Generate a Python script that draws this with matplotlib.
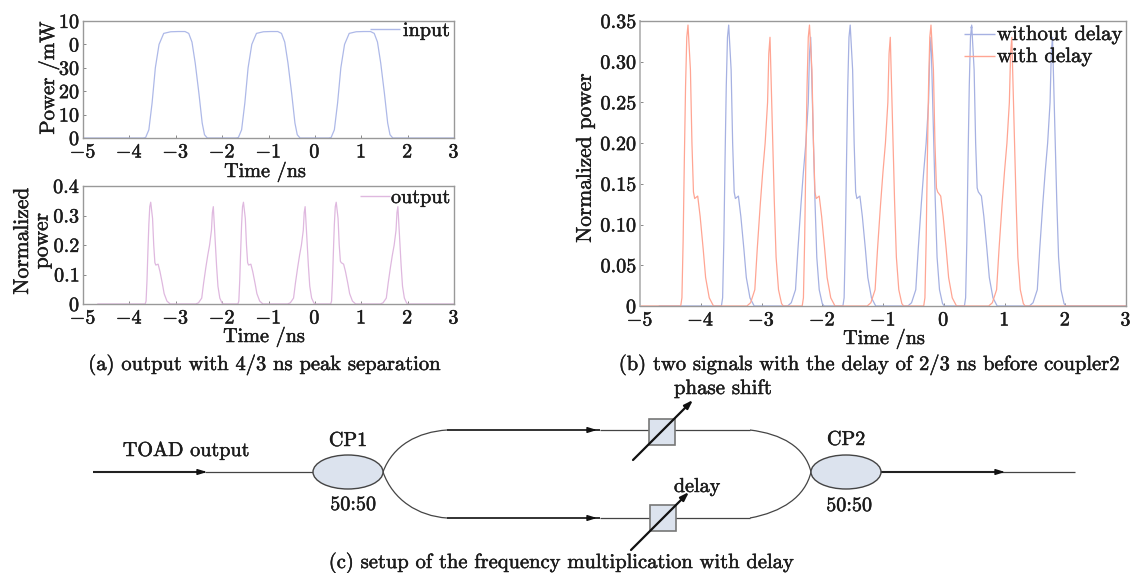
import matplotlib
matplotlib.use("Agg")
import matplotlib.pyplot as plt
import matplotlib.patheffects as pe
from matplotlib.text import Text
from matplotlib.patches import Ellipse, Rectangle, PathPatch
from matplotlib.path import Path

plt.rcParams['font.family'] = ['cmr10', 'DejaVu Serif']
plt.rcParams['mathtext.fontset'] = 'cm'
plt.rcParams['axes.formatter.use_mathtext'] = True

# ---------- data ----------
input_t = [-5, -3.70, -3.65, -3.58, -3.51, -3.44, -3.36, -3.26, -3.11, -2.95, -2.80, -2.72, -2.65, -2.58, -2.50, -2.43, -2.38, -2.32,
           -1.70, -1.65, -1.58, -1.51, -1.44, -1.36, -1.26, -1.11, -0.95, -0.80, -0.72, -0.65, -0.58, -0.50, -0.43, -0.38, -0.32,
           0.30, 0.35, 0.42, 0.49, 0.56, 0.64, 0.74, 0.89, 1.05, 1.20, 1.28, 1.35, 1.42, 1.50, 1.57, 1.62, 1.68, 3]
input_p = [0, 0, 0.2, 3.5, 15, 30, 40, 44.7, 45.4, 45.5, 45.5, 44.7, 41, 32, 19, 6.4, 1.4, 0,
           0, 0.2, 3.5, 15, 30, 40, 44.7, 45.4, 45.5, 45.5, 44.7, 41, 32, 19, 6.4, 1.4, 0,
           0, 0.2, 3.5, 15, 30, 40, 44.7, 45.4, 45.5, 45.5, 44.7, 41, 32, 19, 6.4, 1.4, 0, 0]

nodelay_t = [-4.68, -3.66, -3.64, -3.62, -3.60, -3.58, -3.56, -3.54, -3.50, -3.475, -3.45, -3.43, -3.38, -3.34, -3.29, -3.25, -3.19, -3.12,
             -2.57, -2.51, -2.44, -2.40, -2.35, -2.31, -2.27, -2.23, -2.21, -2.19, -2.155, -2.12, -2.09, -2.05, -2.00, -1.97,
             -1.66, -1.64, -1.62, -1.60, -1.58, -1.56, -1.54, -1.50, -1.475, -1.45, -1.43, -1.38, -1.34, -1.29, -1.25, -1.19, -1.12,
             -0.59, -0.53, -0.46, -0.42, -0.37, -0.33, -0.29, -0.25, -0.23, -0.21, -0.175, -0.14, -0.11, -0.07, -0.02, 0.01,
             0.34, 0.36, 0.38, 0.40, 0.42, 0.44, 0.46, 0.50, 0.525, 0.55, 0.57, 0.62, 0.66, 0.71, 0.75, 0.81, 0.88,
             1.41, 1.47, 1.54, 1.58, 1.63, 1.67, 1.71, 1.75, 1.77, 1.79, 1.825, 1.86, 1.89, 1.93, 1.98, 2.01, 3]
nodelay_p = [0, 0, 0.01, 0.08, 0.18, 0.27, 0.33, 0.345, 0.29, 0.20, 0.14, 0.132, 0.135, 0.11, 0.07, 0.035, 0.01, 0,
             0, 0.004, 0.02, 0.07, 0.125, 0.165, 0.20, 0.25, 0.31, 0.33, 0.23, 0.13, 0.06, 0.02, 0.003, 0,
             0, 0.01, 0.08, 0.18, 0.27, 0.33, 0.345, 0.29, 0.20, 0.14, 0.132, 0.135, 0.11, 0.07, 0.035, 0.01, 0,
             0, 0.004, 0.02, 0.07, 0.125, 0.165, 0.20, 0.25, 0.31, 0.33, 0.23, 0.13, 0.06, 0.02, 0.003, 0,
             0, 0.01, 0.08, 0.18, 0.27, 0.33, 0.345, 0.29, 0.20, 0.145, 0.14, 0.135, 0.11, 0.07, 0.035, 0.01, 0,
             0, 0.004, 0.02, 0.07, 0.125, 0.165, 0.20, 0.25, 0.31, 0.33, 0.23, 0.13, 0.06, 0.02, 0.003, 0, 0]

delay_t = [-5, -4.33, -4.31, -4.29, -4.27, -4.25, -4.23, -4.21, -4.17, -4.145, -4.12, -4.10, -4.05, -4.01, -3.96, -3.92, -3.86, -3.79,
           -3.24, -3.18, -3.11, -3.07, -3.02, -2.98, -2.94, -2.90, -2.88, -2.86, -2.825, -2.79, -2.76, -2.72, -2.67, -2.64,
           -2.33, -2.31, -2.29, -2.27, -2.25, -2.23, -2.21, -2.17, -2.145, -2.12, -2.10, -2.05, -2.01, -1.96, -1.92, -1.86, -1.79,
           -1.26, -1.20, -1.13, -1.09, -1.04, -1.00, -0.96, -0.92, -0.90, -0.88, -0.845, -0.81, -0.78, -0.74, -0.69, -0.66,
           -0.33, -0.31, -0.29, -0.27, -0.25, -0.23, -0.21, -0.17, -0.145, -0.12, -0.10, -0.05, -0.01, 0.04, 0.08, 0.14, 0.21,
           0.74, 0.80, 0.87, 0.91, 0.96, 1.00, 1.04, 1.08, 1.10, 1.12, 1.155, 1.19, 1.22, 1.26, 1.31, 1.34, 3]
delay_p = [0, 0, 0.01, 0.08, 0.18, 0.27, 0.33, 0.345, 0.29, 0.20, 0.14, 0.132, 0.135, 0.11, 0.07, 0.035, 0.01, 0,
           0, 0.004, 0.02, 0.07, 0.125, 0.165, 0.20, 0.25, 0.31, 0.33, 0.23, 0.13, 0.06, 0.02, 0.003, 0,
           0, 0.01, 0.08, 0.18, 0.27, 0.33, 0.345, 0.29, 0.20, 0.14, 0.132, 0.135, 0.11, 0.07, 0.035, 0.01, 0,
           0, 0.004, 0.02, 0.07, 0.125, 0.165, 0.20, 0.25, 0.31, 0.33, 0.23, 0.13, 0.06, 0.02, 0.003, 0,
           0, 0.01, 0.08, 0.18, 0.27, 0.33, 0.345, 0.29, 0.20, 0.145, 0.14, 0.135, 0.11, 0.07, 0.035, 0.01, 0,
           0, 0.004, 0.02, 0.07, 0.125, 0.165, 0.20, 0.25, 0.31, 0.33, 0.23, 0.13, 0.06, 0.02, 0.003, 0, 0]

x_ticks = [-5, -4, -3, -2, -1, 0, 1, 2, 3]
x_labels = ['$-5$', '$-4$', '$-3$', '$-2$', '$-1$', '$0$', '$1$', '$2$', '$3$']
a1_yticks = [0, 10, 20, 30, 40, 50]
a1_ylabels = ['$0$', '$10$', '$20$', '$30$', '$0$', '$10$']
a2_yticks = [0, 0.1, 0.2, 0.3, 0.4]
a2_ylabels = ['$0$', '$0.1$', '$0.2$', '$0.3$', '$0.4$']
b_yticks = [0, 0.05, 0.10, 0.15, 0.20, 0.25, 0.30, 0.35]
b_ylabels = ['$0$', '$0.05$', '$0.10$', '$0.15$', '$0.20$', '$0.25$', '$0.30$', '$0.35$']

W, H = 1133, 573
C_IN, C_OUT, C_BLUE, C_RED = '#aeb9e8', '#dfb8df', '#a6b1e2', '#ffa593'
INK = '#1c1c1c'
FS = 14.5

fig = plt.figure(figsize=(W / 100, H / 100), dpi=100, facecolor='white')


def make_axes(l, t, r, b, ylim, yticks, ylabels):
    ax = fig.add_axes([l / W, 1 - b / H, (r - l) / W, (b - t) / H])
    ax.set_xlim(-5, 3)
    ax.set_ylim(*ylim)
    ax.set_xticks(x_ticks, x_labels)
    ax.set_yticks(yticks, ylabels)
    ax.tick_params(direction='in', length=2.5, width=0.7, color='#888888',
                   labelsize=FS, labelcolor=INK)
    ax.tick_params(axis='x', pad=4)
    ax.tick_params(axis='y', pad=2)
    for s in ax.spines.values():
        s.set_color('#999999')
        s.set_linewidth(1.0)
    return ax


ax1 = make_axes(83, 21, 454, 138, (0, 50), a1_yticks, a1_ylabels)
ax1.plot(input_t, input_p, color=C_IN, lw=0.9)
ax2 = make_axes(83, 186, 454, 304, (0, 0.4), a2_yticks, a2_ylabels)
ax2.plot(nodelay_t, nodelay_p, color=C_OUT, lw=0.9)
ax3 = make_axes(640, 21, 1126, 306, (0, 0.35), b_yticks, b_ylabels)
ax3.plot(nodelay_t, nodelay_p, color=C_BLUE, lw=0.9)
ax3.plot(delay_t, delay_p, color=C_RED, lw=0.9)
ax3.spines['left'].set_color('#bbbbbb')
ax3.spines['left'].set_linewidth(1.4)

# overlay in pixel coordinates for legends, labels and the setup diagram
ov = fig.add_axes([0, 0, 1, 1], facecolor='none')
ov.set_xlim(0, W)
ov.set_ylim(H, 0)
ov.axis('off')


def txt(x, y, s, size=FS, ha='center', rot=0):
    ov.text(x, y, s, fontsize=size, ha=ha, va='center', rotation=rot, color=INK,
            linespacing=1.0)


def seg(x0, y0, x1, y1, c=INK, lw=1.0):
    ov.plot([x0, x1], [y0, y1], color=c, lw=lw, solid_capstyle='butt')


# legends
seg(370, 29, 400, 29, C_IN, 1.0)
txt(403, 31, 'input', ha='left')
seg(360, 196, 390, 196, C_OUT, 1.0)
txt(391, 198, 'output', ha='left')
seg(964, 34, 995, 34, C_BLUE, 1.0)
seg(964, 56, 995, 56, C_RED, 1.0)
ov.plot([971], [27], marker='.', ms=1.5, color=C_BLUE)
txt(997, 35, 'without delay', 15, ha='left')
txt(997, 57, 'with delay', 15, ha='left')

# axis labels
txt(265, 172, 'Time /ns')
txt(264, 337, 'Time /ns')
txt(884, 339, 'Time /ns')
txt(49, 78, 'Power /mW', 15, rot=90)
txt(32, 241, 'Normalized\npower', 15.5, rot=90)
txt(585, 158, 'Normalized power', 15.4, rot=90)

# captions
CAP = 14.8
txt(265, 365, '(a) output with 4/3 ns peak separation', CAP)
txt(870, 365, '(b) two signals with the delay of 2/3 ns before coupler2', CAP)
txt(562, 563, '(c) setup of the frequency multiplication with delay', CAP)

# setup diagram
FILL = '#dce3ee'
LINE = '#444444'
seg(93, 472, 205, 472, '#222222', 1.5)
seg(205, 472, 313, 472, LINE, 0.9)
seg(881, 472, 1000, 472, '#222222', 1.5)
seg(1000, 472, 1075, 472, LINE, 0.9)
seg(447, 430, 600, 430, '#222222', 1.3)
seg(447, 518, 600, 518, '#222222', 1.3)
seg(600, 430, 750, 430, LINE, 0.9)
seg(600, 518, 750, 518, LINE, 0.9)

curves = [
    [(383, 472), (393, 445), (418, 432), (447, 430)],
    [(383, 472), (393, 500), (418, 516), (447, 518)],
    [(811, 472), (805, 447), (782, 434), (750, 430)],
    [(811, 472), (805, 497), (782, 512), (750, 518)],
]
for pts in curves:
    ov.add_patch(PathPatch(Path(pts, [Path.MOVETO, Path.CURVE4, Path.CURVE4, Path.CURVE4]),
                           fill=False, edgecolor=LINE, lw=0.9))

for cx in (348, 846):
    ov.add_patch(Ellipse((cx, 472), 70, 34, facecolor=FILL, edgecolor=LINE, lw=1.0, zorder=3))
ov.add_patch(Rectangle((649, 419), 26, 26, facecolor=FILL, edgecolor='#777777', lw=1.2, zorder=3))
ov.add_patch(Rectangle((650, 505), 26, 26, facecolor=FILL, edgecolor='#777777', lw=1.2, zorder=3))

for (x0, y0, x1, y1) in [(197, 472, 207, 472), (587, 430, 597, 430), (587, 518, 597, 518),
                         (995, 472, 1005, 472)]:
    ov.annotate('', xy=(x1, y1), xytext=(x0, y0),
                arrowprops=dict(arrowstyle='-|>,head_length=0.55,head_width=0.17', color='#111111',
                                lw=1.0, shrinkA=0, shrinkB=0))
for (x0, y0, x1, y1) in [(633, 460, 693, 400), (631, 550, 689, 492)]:
    ov.annotate('', xy=(x1, y1), xytext=(x0, y0), zorder=5,
                arrowprops=dict(arrowstyle='-|>,head_length=0.5,head_width=0.17', color='#111111',
                                lw=1.6, shrinkA=0, shrinkB=0))

txt(186, 451, 'TOAD output')
txt(348, 441, 'CP1')
txt(353, 505, '50:50')
txt(723, 389, 'phase shift', 15)
txt(697, 487, 'delay')
txt(846, 440, 'CP2')
txt(849, 506, '50:50')

# the reference type is slightly heavier than cmr10: thicken it a little
for t in fig.findobj(Text):
    t.set_path_effects([pe.withStroke(linewidth=0.35, foreground=INK)])

fig.savefig('out.png', dpi=100, facecolor='white')
